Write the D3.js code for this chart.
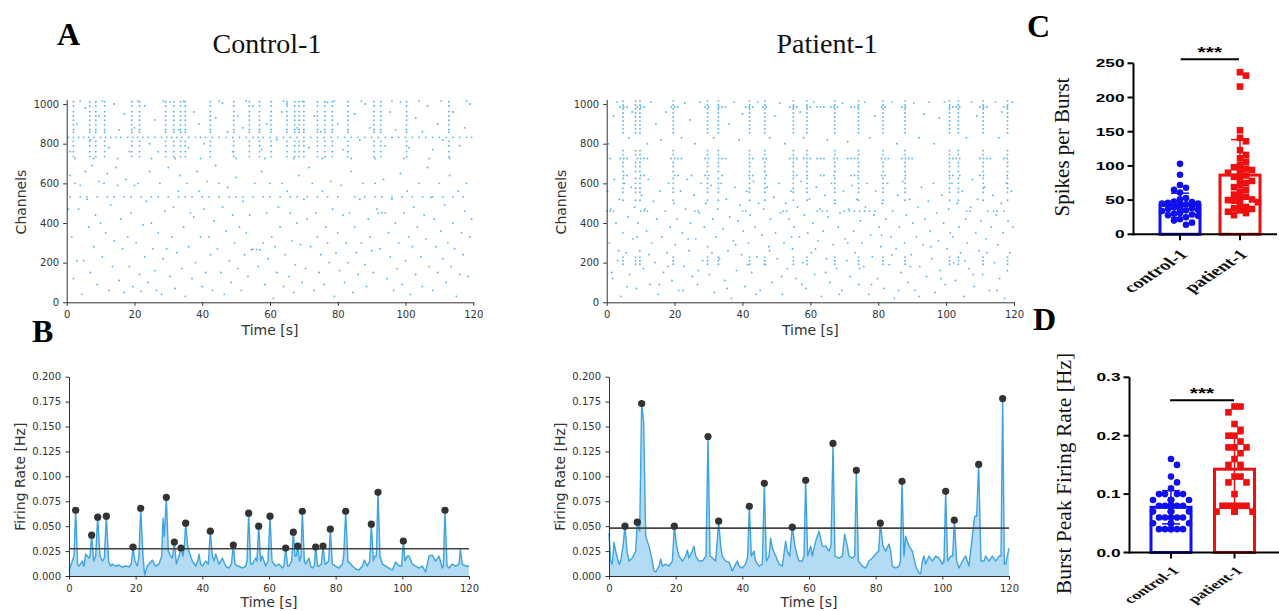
<!DOCTYPE html>
<html>
<head>
<meta charset="utf-8">
<script src="https://cdn.jsdelivr.net/npm/d3@7"></script>
<style>
  body { margin: 0; background: #fff; }
  svg { display: block; }
</style>
</head>
<body>
<svg id="fig" width="1279" height="611"></svg>
<script>
//data ====================================================================

//firing rate traces (baseline points) and detected burst peaks, [time s, rate Hz]
const controlRate = [[0,0.005],[1,0.015],[1.5,0.02],[2.6,0.012],[3,0.01],[4,0.015],[4.5,0.01],[5,0.022],[5.5,0.02],[6,0.018],[6.3,0.02],[7.4,0.015],[8,0.02],[9.3,0.02],[10,0.015],[10.6,0.018],[11.9,0.014],[12.5,0.01],[13,0.012],[14,0.01],[15,0.011],[16,0.009],[17,0.01],[18,0.009],[18.7,0.012],[19.8,0.015],[20.5,0.01],[21,0.02],[22.2,0.02],[22.7,0.001],[23.5,0.01],[24,0.012],[25,0.016],[26,0.01],[27,0.012],[27.8,0.02],[28.2,0.058],[28.6,0.04],[29.8,0.025],[30.5,0.02],[31,0.018],[32.2,0.012],[33,0.02],[34.2,0.02],[34.6,0.03],[35.6,0.03],[36,0.025],[37,0.015],[38,0.01],[38.6,0.015],[39,0.022],[39.5,0.012],[40,0.01],[41,0.015],[41.8,0.012],[43,0.02],[43.5,0.015],[44,0.022],[45,0.012],[46,0.018],[47,0.01],[48,0.008],[48.7,0.012],[49.8,0.012],[50.5,0.01],[51,0.01],[52,0.008],[53,0.01],[53.4,0.015],[54.5,0.012],[55,0.012],[56,0.018],[56.4,0.015],[57.5,0.015],[58,0.02],[59,0.01],[59.7,0.015],[60.9,0.015],[61.5,0.012],[62,0.01],[63,0.012],[64,0.008],[64.5,0.01],[65.6,0.01],[66,0.01],[66.8,0.015],[67.8,0.02],[68.2,0.02],[69.2,0.015],[69.6,0.02],[70.6,0.015],[71,0.012],[72,0.018],[72.5,0.01],[73,0.008],[73.6,0.01],[74.6,0.01],[75,0.01],[75.7,0.012],[76.8,0.012],[77,0.012],[77.9,0.015],[79,0.012],[80,0.01],[81,0.008],[82,0.012],[82.4,0.02],[83.7,0.014],[84,0.014],[85,0.01],[86,0.007],[87,0.006],[88,0.01],[88.6,0.016],[89.5,0.01],[90.2,0.015],[91.3,0.015],[91.8,0.02],[92.2,0.02],[93.3,0.02],[94,0.012],[95,0.01],[96,0.008],[97,0.006],[98,0.014],[99,0.01],[99.8,0.01],[100.8,0.015],[101.5,0.02],[102,0.02],[103,0.012],[104,0.01],[105,0.008],[106,0.01],[107,0.004],[108,0.02],[109,0.021],[110,0.015],[111,0.02],[112,0.008],[112.3,0.01],[113.4,0.01],[114,0.008],[115,0.012],[116,0.01],[117,0.012],[117.4,0.027],[118,0.012],[119,0.01],[120,0.01]];
const controlPeaks = [[2.0,0.066],[6.8,0.041],[8.6,0.059],[11.2,0.060],[19.2,0.029],[21.5,0.068],[29.2,0.079],[31.6,0.034],[33.6,0.028],[35.0,0.053],[42.4,0.045],[49.3,0.031],[53.9,0.063],[56.9,0.050],[60.3,0.060],[65.0,0.028],[67.3,0.044],[68.6,0.030],[70.0,0.065],[74.0,0.029],[76.2,0.030],[78.4,0.047],[83.0,0.065],[90.7,0.052],[92.7,0.084],[100.3,0.035],[112.8,0.066]];
const controlThreshold = 0.0274;

const patientRate = [[0,0.043],[0.5,0.015],[1,0.012],[1.5,0.034],[2,0.025],[3,0.012],[3.5,0.015],[4.2,0.03],[5.4,0.025],[6,0.015],[7,0.018],[8,0.025],[9.2,0.045],[10.4,0.155],[11,0.04],[12,0.03],[13,0.015],[13.5,0.005],[14,0.004],[15,0.01],[15.5,0.017],[16,0.01],[17,0.012],[18,0.01],[19,0.015],[20.3,0.03],[21,0.02],[22,0.015],[23,0.02],[23.5,0.026],[24,0.018],[25,0.025],[25.5,0.03],[26,0.02],[27,0.015],[28,0.015],[29.1,0.02],[30.3,0.02],[31,0.018],[32,0.015],[33.5,0.03],[34,0.02],[35,0.015],[36,0.014],[37,0.005],[38,0.012],[38.5,0.015],[39,0.01],[40,0.008],[41,0.012],[41.6,0.02],[42.7,0.02],[43.5,0.025],[44,0.015],[45,0.01],[46,0.012],[47.2,0.015],[48,0.02],[48.5,0.038],[49,0.028],[50,0.02],[51,0.012],[52,0.01],[53,0.035],[53.5,0.025],[54.2,0.02],[55.8,0.03],[56.5,0.02],[57,0.015],[58,0.015],[58.5,0.02],[59.6,0.02],[60.5,0.03],[61,0.02],[62,0.035],[63,0.045],[64,0.03],[65,0.03],[66,0.025],[66.6,0.03],[67.8,0.02],[69,0.018],[70,0.02],[70.7,0.042],[71.5,0.03],[72,0.02],[73,0.018],[73.7,0.02],[74.8,0.015],[76,0.01],[77,0.008],[78,0.015],[79,0.018],[80,0.022],[80.9,0.025],[82.2,0.03],[83,0.025],[84,0.032],[84.5,0.025],[85,0.01],[86,0.008],[87,0.01],[87.4,0.015],[88.5,0.02],[89,0.04],[90,0.03],[91,0.025],[92,0.01],[93,0.003],[93.5,0.002],[94,0.015],[94.5,0.02],[95,0.012],[96,0.02],[97,0.015],[98,0.02],[99,0.018],[100,0.012],[100.5,0.015],[101.6,0.015],[102.5,0.02],[103.1,0.02],[104.3,0.015],[105,0.008],[106,0.015],[107,0.02],[108,0.01],[109,0.04],[109.7,0.06],[110.3,0.06],[111.6,0.015],[112.5,0.015],[113,0.02],[114,0.015],[115,0.02],[116,0.015],[117,0.02],[117.6,0.02],[118.6,0.012],[119,0.012],[119.5,0.02],[120,0.028]];
const patientPeaks = [[4.8,0.050],[8.5,0.054],[9.8,0.173],[19.6,0.050],[29.7,0.140],[32.9,0.055],[42.1,0.070],[46.6,0.093],[55.0,0.049],[59.0,0.096],[67.2,0.133],[74.2,0.106],[81.4,0.053],[87.9,0.095],[101.0,0.085],[103.6,0.056],[110.9,0.112],[118.1,0.178]];
const patientThreshold = 0.048;

//raster: channels that join the bursts, tonic rows, and loose spikes [time, channel]
const controlBurstChannels = [1012,990,962,940,918,895,872,858,812,790,760,735];
const controlRowChannels = [832, 532];
const controlRowTimes = [
  [0.5,2,3.5,5,6.5,8,10,11.5,13,14.5,16,18,19.5,21,22.5,24,26,28,29.5,31,32.5,34,36,38,39.5,41,43,45,47,49,51,53,55,56.5,58,60,62,64,66,68,70,72,74,76,78,80,82,84,86,88,90,92,94,96,98,100,102,104,106,108,110,112,114,116,118,119.5],
  [1,4,6,9,12,14,17,19,22,25,27,30,33,35,37,40,42,45,48,50,52,55,58,60,63,66,68,71,74,77,80,85,88,91,93,96,99,102,105,108,111,114,117]
];
const controlSpikes = [[0.5,470],[1,640],[1.5,330],[2,120],[2.5,600],[3,210],[3.5,470],[4,590],[4.5,40],[5,210],[5.5,660],[6,520],[6.5,380],[7,150],[7.5,690],[8,280],[8.5,440],[9,90],[9.5,610],[10,400],[10.5,230],[11,600],[11.5,350],[12,650],[12.5,60],[13,490],[13.5,180],[14,310],[14.5,680],[15,590],[15.5,110],[16,420],[16.5,270],[17,50],[17.5,620],[18,330],[18.5,180],[19,450],[19.5,80],[20,590],[20.5,300],[21,600],[21.5,140],[22,55],[22.5,390],[23,230],[23.5,510],[24,100],[24.5,660],[25,400],[25.5,270],[26,160],[26.5,60],[27,350],[27.5,600],[28,40],[28.5,220],[29,460],[29.5,270],[30,680],[30.5,130],[31,330],[31.5,480],[32,70],[32.5,250],[33,560],[33.5,640],[34,170],[34.5,380],[35,30],[35.5,600],[36,280],[36.5,450],[37,120],[37.5,430],[38,200],[38.5,660],[39,560],[39.5,330],[40,80],[40.5,470],[41,150],[41.5,610],[42,330],[42.5,240],[43,60],[43.5,410],[44,690],[44.5,270],[45,600],[45.5,150],[46,480],[46.5,40],[47,360],[47.5,580],[48,210],[48.5,100],[49,440],[49.5,300],[50,630],[50.5,170],[51,380],[51.5,60],[52,510],[52.5,240],[53,350],[53.5,130],[54,440],[54.5,265],[55,268],[55.5,600],[56,266],[56.5,180],[57,265],[57.5,660],[58,300],[58.5,90],[59,450],[59.5,220],[60,600],[60.5,330],[61,20],[61.5,280],[62,150],[62.5,480],[63,380],[63.5,600],[64,80],[64.5,240],[65,560],[65.5,130],[66,450],[66.5,310],[67,50],[67.5,190],[68,400],[68.5,640],[69,290],[69.5,100],[70,520],[70.5,170],[71,420],[71.5,680],[72,280],[72.5,600],[73,60],[73.5,450],[74,330],[74.5,150],[75,240],[75.5,560],[76,90],[76.5,380],[77,300],[77.5,200],[78,610],[78.5,470],[79,30],[79.5,250],[80,350],[80.5,160],[81,590],[81.5,440],[82,100],[82.5,300],[83,200],[83.5,450],[84,660],[84.5,50],[85,380],[85.5,250],[86,140],[86.5,520],[87,300],[87.5,600],[88,190],[88.5,80],[89,420],[89.5,330],[90,260],[90.5,150],[91,600],[91.5,470],[92,450],[92.5,270],[93,452],[93.5,620],[94,450],[94.5,120],[95,350],[95.5,230],[96,520],[96.5,60],[97,400],[97.5,170],[98,300],[98.5,650],[99,90],[99.5,450],[100,210],[100.5,560],[101,330],[101.5,40],[102,280],[102.5,480],[103,140],[103.5,380],[104,600],[104.5,230],[105,80],[105.5,440],[106,320],[106.5,680],[107,180],[107.5,530],[108,60],[108.5,420],[109,280],[109.5,150],[110,600],[110.5,360],[111,220],[111.5,490],[112,100],[112.5,300],[113,640],[113.5,180],[114,400],[114.5,270],[115,30],[115.5,560],[116,140],[116.5,350],[117,240],[117.5,460],[118,600],[118.5,130],[119,330],[119.5,420],
  [1,760],[3,900],[5.5,980],[7,820],[9.5,940],[12.5,780],[14,1000],[15.5,870],[17,950],[18.5,760],[20,880],[23,990],[24.5,800],[26,920],[27,760],[30.5,1010],[33,870],[36,780],[37.5,960],[39,900],[40.5,800],[44,930],[46,1005],[47.5,860],[49,760],[50.5,940],[52,880],[55,990],[57.5,770],[59,900],[62,820],[63.5,960],[65,1000],[68,880],[71.5,780],[73,940],[75,860],[77,1010],[80,900],[81.5,770],[85,950],[86.5,820],[88,1000],[89.5,880],[94,790],[95.5,960],[97,870],[98.5,1010],[101,780],[103,930],[105,860],[106.5,990],[108,770],[109.5,900],[111,820],[114,960],[116,790],[117.5,880],[119,1000],
  [2.5,725],[4,1015],[8,725],[10.5,1015],[15,725],[21,1015],[25,725],[28.5,1015],[32,725],[34.5,1015],[39.5,725],[45,1015],[50,725],[53,1015],[58.5,725],[64,1015],[67,725],[69.5,1015],[75.5,725],[79,1015],[84,725],[87,1015],[91,725],[96,1015],[99.5,725],[104,1015],[107,725],[110.5,1015],[113,725],[118,1015]];

const patientBurstChannels = [1015,995,975,955,935,915,895,875,855,765,745,705,685,660,625,600,575,555,515,228,210,192];
const patientRowChannels = [985, 725, 640, 460];
const patientRowTimes = [
  [4,5,6,9,10,11,19,20,21,29,30,33,34,35,41,42,43,46,47,54,55,56,59,60,62,63,64,66,67,68,72,73,74,81,82,87,88,101,102,103,104,110,111,112,117,118],
  [1,4,5,6,9,10,11,12,19,20,21,22,29,30,33,34,35,42,43,46,47,54,55,56,58,59,60,62,63,64,67,68,71,72,73,74,81,82,83,87,88,89,90,101,102,103,104,110,111,112,113,117,118],
  [5,6,10,11,20,21,25,29,30,34,42,43,47,55,56,59,63,64,67,72,73,74,81,82,88,101,102,104,110,111,118],
  [0,1,2,10,11,12,26,27,40,41,52,53,62,63.5,65,70,71.5,73,74.5,76,77.5,79,106,107,114,115,117]
];
const patientSpikes = [[0.25,560],[0.75,300],[1.25,470],[1.75,120],[2.25,620],[2.75,400],[3.25,210],[3.75,520],[4.25,30],[4.75,350],[5.25,600],[5.75,250],[6.25,430],[6.75,140],[7.25,580],[7.75,320],[8.25,480],[8.75,70],[9.25,400],[9.75,260],[10.25,540],[10.75,170],[11.25,470],[11.75,360],[12.25,620],[12.75,90],[13.25,300],[13.75,510],[14.25,200],[14.75,420],[15.25,40],[15.75,560],[16.25,330],[16.75,150],[17.25,460],[17.75,250],[18.25,600],[18.75,380],[19.25,110],[19.75,500],[20.25,290],[20.75,420],[21.25,60],[21.75,560],[22.25,350],[22.75,180],[23.25,470],[23.75,620],[24.25,260],[24.75,400],[25.25,130],[25.75,540],[26.25,320],[26.75,90],[27.25,450],[27.75,600],[28.25,210],[28.75,380],[29.25,500],[29.75,280],[30.25,140],[30.75,590],[31.25,420],[31.75,50],[32.25,330],[32.75,470],[33.25,220],[33.75,600],[34.25,370],[34.75,110],[35.25,520],[35.75,260],[36.25,430],[36.75,20],[37.25,310],[37.75,580],[38.25,160],[38.75,410],[39.25,490],[39.75,240],[40.25,360],[40.75,80],[41.25,560],[41.75,300],[42.25,440],[42.75,150],[43.25,610],[43.75,380],[44.25,230],[44.75,500],[45.25,60],[45.75,340],[46.25,470],[46.75,190],[47.25,580],[47.75,280],[48.25,420],[48.75,100],[49.25,530],[49.75,350],[50.25,220],[50.75,600],[51.25,450],[51.75,40],[52.25,300],[52.75,500],[53.25,170],[53.75,420],[54.25,560],[54.75,270],[55.25,380],[55.75,120],[56.25,480],[56.75,330],[57.25,610],[57.75,200],[58.25,440],[58.75,70],[59.25,350],[59.75,520],[60.25,250],[60.75,400],[61.25,140],[61.75,580],[62.25,310],[62.75,470],[63.25,30],[63.75,360],[64.25,540],[64.75,220],[65.25,430],[65.75,100],[66.25,600],[66.75,290],[67.25,500],[67.75,170],[68.25,380],[68.75,450],[69.25,60],[69.75,560],[70.25,320],[70.75,210],[71.25,470],[71.75,130],[72.25,590],[72.75,360],[73.25,250],[73.75,520],[74.25,90],[74.75,410],[75.25,300],[75.75,180],[76.25,480],[76.75,600],[77.25,40],[77.75,340],[78.25,230],[78.75,440],[79.25,560],[79.75,120],[80.25,380],[80.75,280],[81.25,500],[81.75,70],[82.25,420],[82.75,600],[83.25,190],[83.75,330],[84.25,460],[84.75,20],[85.25,270],[85.75,540],[86.25,380],[86.75,150],[87.25,610],[87.75,300],[88.25,440],[88.75,100],[89.25,520],[89.75,240],[90.25,400],[90.75,60],[91.25,330],[91.75,480],[92.25,180],[92.75,580],[93.25,290],[93.75,420],[94.25,130],[94.75,510],[95.25,360],[95.75,220],[96.25,600],[96.75,50],[97.25,450],[97.75,310],[98.25,160],[98.75,540],[99.25,400],[99.75,90],[100.25,270],[100.75,470],[101.25,350],[101.75,600],[102.25,200],[102.75,110],[103.25,500],[103.75,380],[104.25,250],[104.75,560],[105.25,30],[105.75,420],[106.25,300],[106.75,170],[107.25,480],[107.75,620],[108.25,80],[108.75,350],[109.25,520],[109.75,260],[110.25,410],[110.75,140],[111.25,580],[111.75,320],[112.25,460],[112.75,60],[113.25,380],[113.75,540],[114.25,200],[114.75,440],[115.25,290],[115.75,120],[116.25,500],[116.75,350],[117.25,20],[117.75,600],[118.25,410],[118.75,250],[119.25,560],[119.75,380],
  [0.5,800],[2,940],[3,1010],[6.5,830],[7.5,960],[12,800],[13,1010],[14.5,900],[16,820],[17.5,960],[22,830],[23,1005],[24.5,920],[26,800],[27.5,1010],[31.5,830],[36,900],[37.5,1010],[39,820],[40,950],[44.5,1010],[48,830],[49.5,940],[51,1005],[52.5,800],[57,960],[58,830],[61,1010],[65,820],[69.5,1005],[71,810],[76,1010],[77.5,830],[79,940],[84,1010],[85.5,800],[90.5,1005],[92,830],[93.5,950],[95,1010],[96.5,800],[98,930],[99.5,1010],[106,830],[107.5,1010],[109,940],[114.5,1010],[115.5,830],[116.5,960],[119.5,1010],
  [1.5,150],[3.5,260],[6,80],[9,330],[12.5,240],[15.5,90],[18,180],[22.5,60],[24,320],[27,160],[31,250],[35.5,70],[38,290],[41.5,190],[44,40],[48,260],[51.5,130],[54.5,330],[57.5,90],[61.5,270],[64.5,150],[68.5,40],[71,300],[74.5,170],[78,90],[81,340],[84,240],[86,60],[89.5,180],[92,30],[95.5,280],[98.5,120],[102,330],[105.5,210],[108,140],[112,250],[115,60],[118,160]];

//panel C and D: one value per burst
const spikesPerBurstControl = [103,87,72,68,65,61,53,51,48,47,46,45,45,44,44,43,42,42,41,40,40,39,38,38,37,36,35,34,33,32,31,30,29,28,27,25,22,20,17,14];
const spikesPerBurstPatient = [237,232,216,152,141,136,123,116,111,106,101,98,96,94,92,90,86,84,81,78,75,72,69,65,62,58,55,53,51,50,49,47,44,40,38,37,35,33,31,28];
const peakRateControl = [0.16,0.15,0.13,0.12,0.11,0.10,0.10,0.10,0.10,0.09,0.09,0.09,0.09,0.09,0.09,0.08,0.08,0.08,0.08,0.08,0.08,0.08,0.07,0.07,0.07,0.07,0.07,0.07,0.06,0.06,0.06,0.06,0.06,0.05,0.05,0.05,0.05,0.04,0.04,0.04,0.04,0.04,0.04];
const peakRatePatient = [0.25,0.25,0.24,0.22,0.21,0.20,0.20,0.19,0.18,0.18,0.18,0.17,0.16,0.15,0.15,0.13,0.13,0.12,0.12,0.10,0.08,0.08,0.08,0.08,0.08,0.07,0.07,0.07,0.07,0.07];
const groupNames = ['control-1', 'patient-1'];

//fonts and colours
const serif = "'Liberation Serif','Times New Roman',serif";
const mplFont = "'DejaVu Sans',sans-serif";
const boldSans = "'Liberation Sans',Arial,sans-serif";
const spikeBlue = '#5ab6e8';
const lineBlue = '#3ea3e0';
const fillBlue = '#b3dbf3';
const ink = '#333';
const groupColors = ['#1010ee', '#ee1010'];

const svg = d3.select('#fig');

//matplotlib looking axis
function mplStyle(g) {
  g.select('.domain').attr('stroke', ink).attr('stroke-width', 1);
  g.selectAll('.tick line').attr('stroke', ink).attr('stroke-width', 1);
  g.selectAll('.tick text').attr('fill', ink).attr('font-family', mplFont).attr('font-size', 10);
  g.attr('font-family', mplFont);
}

function mplLabel(x, y, txt, rotate) {
  svg.append('text')
    .attr('transform', rotate ? `translate(${x},${y}) rotate(-90)` : `translate(${x},${y})`)
    .attr('text-anchor', 'middle')
    .attr('dy', rotate ? '0.35em' : 0)
    .attr('font-family', mplFont)
    .attr('font-size', 14)
    .attr('fill', ink)
    .text(txt);
}

//RASTER================================================
function drawRaster(x0, x1, bursts, burstCh, rowCh, rowT, spikes) {
  const x = d3.scaleLinear().domain([0, 120]).range([x0, x1]);
  const y = d3.scaleLinear().domain([0, 1024]).range([302.3, 99.3]);
  let dots = [];
  bursts.forEach(t => burstCh.forEach(ch => dots.push([t, ch])));
  rowCh.forEach((ch, i) => rowT[i].forEach(t => dots.push([t, ch])));
  dots = dots.concat(spikes);

  svg.append('g').selectAll('circle')
    .data(dots)
    .join('circle')
    .attr('cx', d => x(d[0]))
    .attr('cy', d => y(d[1]))
    .attr('r', 0.95)
    .attr('fill', spikeBlue);

  svg.append('g')
    .attr('transform', `translate(0,${y(0)})`)
    .call(d3.axisBottom(x).tickValues(d3.range(0, 121, 20)).tickSize(3.5).tickPadding(5.5).tickSizeOuter(0))
    .call(mplStyle);
  svg.append('g')
    .attr('transform', `translate(${x0},0)`)
    .call(d3.axisLeft(y).tickValues(d3.range(0, 1001, 200)).tickFormat(d3.format('d')).tickSize(3.5).tickPadding(4).tickSizeOuter(0))
    .call(mplStyle);

  mplLabel((x0 + x1) / 2, 335, 'Time [s]');
  mplLabel(x0 - 46, 202, 'Channels', true);
}

//FIRING RATE================================================
function drawRate(x0, x1, rate, peaks, thr) {
  const x = d3.scaleLinear().domain([0, 120]).range([x0, x1]);
  const y = d3.scaleLinear().domain([0, 0.2]).range([576, 376.7]);
  const series = rate.concat(peaks).sort((a, b) => a[0] - b[0]);

  svg.append('path')
    .datum(series)
    .attr('fill', fillBlue)
    .attr('d', d3.area().x(d => x(d[0])).y0(y(0)).y1(d => y(d[1])));
  svg.append('path')
    .datum(series)
    .attr('fill', 'none')
    .attr('stroke', lineBlue)
    .attr('stroke-width', 1.4)
    .attr('stroke-linejoin', 'round')
    .attr('d', d3.line().x(d => x(d[0])).y(d => y(d[1])));

  //threshold line
  svg.append('line')
    .attr('x1', x(0)).attr('x2', x(120))
    .attr('y1', y(thr)).attr('y2', y(thr))
    .attr('stroke', '#444')
    .attr('stroke-width', 1.6);

  svg.append('g').selectAll('circle')
    .data(peaks)
    .join('circle')
    .attr('cx', d => x(d[0]))
    .attr('cy', d => y(d[1]))
    .attr('r', 3.6)
    .attr('fill', '#333');

  svg.append('g')
    .attr('transform', `translate(0,${y(0)})`)
    .call(d3.axisBottom(x).tickValues(d3.range(0, 121, 20)).tickSize(3.5).tickPadding(5.3).tickSizeOuter(0))
    .call(mplStyle);
  svg.append('g')
    .attr('transform', `translate(${x0},0)`)
    .call(d3.axisLeft(y).tickValues(d3.range(0, 0.2001, 0.025)).tickFormat(d3.format('.3f')).tickSize(3.5).tickPadding(4.5).tickSizeOuter(0))
    .call(mplStyle);

  mplLabel((x0 + x1) / 2, 606.5, 'Time [s]');
  mplLabel(x0 - 49, 476.7, 'Firing Rate [Hz]', true);
}

//simple beeswarm so the points spread inside the bar
function swarm(vals, y, cx, step, maxOff) {
  const placed = [];
  return vals.slice().sort((a, b) => b - a).map(v => {
    const py = y(v);
    let off = 0;
    for (let k = 0; k < 60; k++) {
      const cand = k === 0 ? 0 : (k % 2 ? 1 : -1) * Math.ceil(k / 2) * step;
      if (Math.abs(cand) > maxOff) break;
      if (placed.every(p => Math.hypot(p[0] - (cx + cand), p[1] - py) >= step)) { off = cand; break; }
    }
    placed.push([cx + off, py]);
    return [cx + off, py];
  });
}

//BAR PANELS================================================
function drawBars(o) {
  const y = d3.scaleLinear().domain([0, o.max]).range([o.yBase, o.yTop]);
  const x = d3.scalePoint().domain(groupNames).range(o.centers);
  const g = svg.append('g');

  o.groups.forEach((vals, i) => {
    const name = groupNames[i];
    const cx = x(name);
    const m = d3.mean(vals);
    const sd = d3.deviation(vals);
    const col = groupColors[i];

    g.append('rect')
      .attr('x', cx - 20).attr('width', 40)
      .attr('y', y(m)).attr('height', y(0) - y(m))
      .attr('fill', '#fff')
      .attr('stroke', col)
      .attr('stroke-width', 3);

    const pts = swarm(vals, y, cx, o.step, 18);
    if (i === 0) {
      g.append('g').selectAll('circle').data(pts).join('circle')
        .attr('cx', d => d[0]).attr('cy', d => d[1]).attr('r', o.mark / 2).attr('fill', col);
    } else {
      g.append('g').selectAll('rect').data(pts).join('rect')
        .attr('x', d => d[0] - o.mark / 2).attr('y', d => d[1] - o.mark / 2)
        .attr('width', o.mark).attr('height', o.mark).attr('fill', col);
    }

    //mean +- sd
    g.append('line')
      .attr('x1', cx).attr('x2', cx)
      .attr('y1', y(Math.max(0, m - sd))).attr('y2', y(m + sd))
      .attr('stroke', col).attr('stroke-width', 1.5);
    [m + sd, m - sd].filter(v => v > 0).forEach(v => {
      g.append('line')
        .attr('x1', cx - 9).attr('x2', cx + 9)
        .attr('y1', y(v)).attr('y2', y(v))
        .attr('stroke', col).attr('stroke-width', 1.5);
    });

    //category label, the panel is stretched sideways in the original
    g.append('text')
      .attr('transform', `translate(${cx + 9},${o.yBase + o.catDy}) scale(1.5,1) rotate(-45)`)
      .attr('text-anchor', 'end')
      .attr('font-family', serif)
      .attr('font-weight', 'bold')
      .attr('font-size', o.catFont)
      .attr('fill', '#111')
      .text(name);

    //x tick
    g.append('line')
      .attr('x1', cx).attr('x2', cx)
      .attr('y1', o.yBase).attr('y2', o.yBase + 6)
      .attr('stroke', '#000').attr('stroke-width', 2);
  });

  //axes
  g.append('line')
    .attr('x1', o.axisX).attr('x2', o.axisX)
    .attr('y1', o.yTop).attr('y2', o.yBase + 1)
    .attr('stroke', '#000').attr('stroke-width', 2);
  g.append('line')
    .attr('x1', o.axisX - 1).attr('x2', o.xEnd)
    .attr('y1', o.yBase).attr('y2', o.yBase)
    .attr('stroke', '#000').attr('stroke-width', 2);

  o.ticks.forEach(t => {
    g.append('line')
      .attr('x1', o.axisX - 6).attr('x2', o.axisX)
      .attr('y1', y(t)).attr('y2', y(t))
      .attr('stroke', '#000').attr('stroke-width', 2);
    g.append('text')
      .attr('transform', `translate(${o.axisX - 9},${y(t)}) scale(1.5,1)`)
      .attr('text-anchor', 'end')
      .attr('dy', '0.36em')
      .attr('font-family', boldSans)
      .attr('font-weight', 'bold')
      .attr('font-size', o.tickFont)
      .attr('fill', '#000')
      .text(o.fmt(t));
  });

  //significance bar
  g.append('line')
    .attr('x1', o.sig[0]).attr('x2', o.sig[1])
    .attr('y1', o.sig[2]).attr('y2', o.sig[2])
    .attr('stroke', '#000').attr('stroke-width', 2);
  g.append('text')
    .attr('transform', `translate(${(o.sig[0] + o.sig[1]) / 2},${o.sig[2] - 2}) scale(1.5,1)`)
    .attr('text-anchor', 'middle')
    .attr('font-family', boldSans)
    .attr('font-weight', 'bold')
    .attr('font-size', 14)
    .text('***');

  svg.append('text')
    .attr('transform', `translate(${o.label[0]},${o.label[1]}) rotate(-90)`)
    .attr('text-anchor', 'middle')
    .attr('dy', '0.3em')
    .attr('font-family', serif)
    .attr('font-size', o.labelFont)
    .attr('fill', '#111')
    .text(o.label[2]);
}

//draw everything================================================
drawRaster(66.7, 473.3, controlPeaks.map(d => d[0]), controlBurstChannels, controlRowChannels, controlRowTimes, controlSpikes);
drawRaster(606.7, 1014, patientPeaks.map(d => d[0]), patientBurstChannels, patientRowChannels, patientRowTimes, patientSpikes);
drawRate(69, 469, controlRate, controlPeaks, controlThreshold);
drawRate(609, 1009, patientRate, patientPeaks, patientThreshold);

drawBars({
  groups: [spikesPerBurstControl, spikesPerBurstPatient],
  max: 250, ticks: d3.range(0, 251, 50), fmt: d3.format('d'),
  yBase: 234.3, yTop: 63.3, axisX: 1133.5, xEnd: 1277, centers: [1180, 1240],
  step: 6, mark: 6.6, tickFont: 11.5, catFont: 14, catDy: 21,
  sig: [1180.7, 1239, 59.3],
  label: [1063, 147, 'Spikes per Burst'], labelFont: 21
});
drawBars({
  groups: [peakRateControl, peakRatePatient],
  max: 0.3, ticks: [0, 0.1, 0.2, 0.3], fmt: d3.format('.1f'),
  yBase: 552.5, yTop: 377.3, axisX: 1129.5, xEnd: 1279, centers: [1171, 1234.5],
  step: 6, mark: 6.6, tickFont: 11.5, catFont: 12, catDy: 19,
  sig: [1170, 1234, 400.3],
  label: [1065, 473.5, 'Burst Peak Firing Rate [Hz]'], labelFont: 21.5
});

//titles and panel letters
[['Control-1', 267], ['Patient-1', 827]].forEach(d => {
  svg.append('text')
    .attr('x', d[1]).attr('y', 53)
    .attr('text-anchor', 'middle')
    .attr('font-family', serif)
    .attr('font-size', 28)
    .attr('fill', '#111')
    .text(d[0]);
});
[['A', 57, 45], ['B', 32, 342], ['C', 1027, 37], ['D', 1033, 330]].forEach(d => {
  svg.append('text')
    .attr('x', d[1]).attr('y', d[2])
    .attr('font-family', serif)
    .attr('font-weight', 'bold')
    .attr('font-size', 32)
    .attr('fill', '#000')
    .text(d[0]);
});
</script>
</body>
</html>
